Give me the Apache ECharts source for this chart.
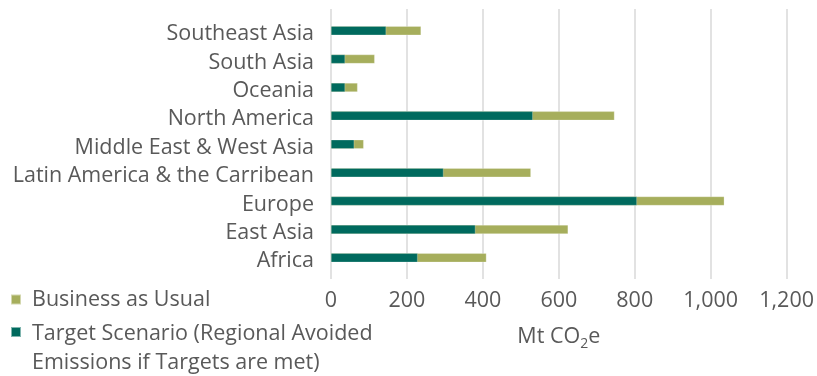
<!DOCTYPE html>
<html>
<head>
<meta charset="utf-8">
<script src="https://cdn.jsdelivr.net/npm/echarts@6/dist/echarts.min.js"></script>
<style>
  html, body { margin: 0; padding: 0; background: #ffffff; }
  #chart { width: 817px; height: 376px; }
</style>
</head>
<body>
<div id="chart"></div>
<script>
// Regions, listed bottom to top as the category axis runs
const regions = [
  'Africa',
  'East Asia',
  'Europe',
  'Latin America & the Carribean',
  'Middle East & West Asia',
  'North America',
  'Oceania',
  'South Asia',
  'Southeast Asia'
];
// Mt CO2e
const businessAsUsual = [409, 624, 1035, 526, 86, 746, 70, 115, 237];
const targetScenario  = [228, 380, 805, 296, 61, 531, 37, 37, 145];
const xTicks = { min: 0, max: 1200, interval: 200 };

const BAU_NAME = 'Business as Usual';
const TARGET_NAME = 'Target Scenario (Regional Avoided Emissions if Targets are met)';

const FONT = '"Open Sans", "Noto Sans", sans-serif';
const FONT_SIZE = 21.5;
const TEXT_GRAY = '#595959';
const BAU_COLOR = '#a6ae5c';
const TARGET_COLOR = '#006a5e';

const baseText = { color: TEXT_GRAY, fontFamily: FONT, fontSize: FONT_SIZE, fontWeight: 'normal' };

const chart = echarts.init(document.getElementById('chart'), null, { renderer: 'canvas' });

const legendCommon = {
  orient: 'vertical',
  left: 10,
  padding: 0,
  itemWidth: 10,
  itemHeight: 10,
  icon: 'rect'
};

chart.setOption({
  backgroundColor: '#ffffff',
  animation: false,
  textStyle: { fontFamily: FONT },
  grid: [
    // value axis + gridlines
    { left: 331, right: 30, top: 9, height: 270 },
    // bars + region labels
    { left: 331, right: 30, top: 16.5, height: 255.5 }
  ],
  xAxis: [
    {
      gridIndex: 0,
      type: 'value',
      min: xTicks.min, max: xTicks.max, interval: xTicks.interval,
      axisLine: { show: false },
      axisTick: { show: false },
      splitLine: { show: true, lineStyle: { color: '#d9d9d9', width: 1.5 } },
      axisLabel: Object.assign({ margin: 11, formatter: v => v.toLocaleString('en-US') }, baseText),
      name: 'Mt CO{sub|2}e',
      nameLocation: 'middle',
      nameGap: 43,
      nameTextStyle: Object.assign({
        rich: {
          sub: { fontSize: 14, fontFamily: FONT, color: TEXT_GRAY, padding: [15, 0, 0, 0] }
        }
      }, baseText)
    },
    {
      gridIndex: 1,
      type: 'value',
      min: xTicks.min, max: xTicks.max, interval: xTicks.interval,
      show: false
    }
  ],
  yAxis: [
    { gridIndex: 0, type: 'value', min: 0, max: 1, show: false },
    {
      gridIndex: 1,
      type: 'category',
      data: regions,
      axisLine: { show: false },
      axisTick: { show: false },
      axisLabel: Object.assign({
        margin: 17,
        interval: 0,
        // region names sit a little below the bar centre line
        formatter: v => '{r|' + v + '}',
        rich: { r: Object.assign({ padding: [7, 0, 0, 0] }, baseText) }
      }, baseText)
    }
  ],
  legend: [
    Object.assign({}, legendCommon, {
      top: 285,
      data: [BAU_NAME],
      textStyle: Object.assign({ lineHeight: 29, padding: [0, 0, 0, 6] }, baseText)
    }),
    Object.assign({}, legendCommon, {
      // the name wraps onto two lines; the square stays beside the first one
      top: 323,
      data: [TARGET_NAME],
      formatter: name => '{t|' + name.replace('Avoided ', 'Avoided}\n{t|') + '}',
      textStyle: Object.assign({
        padding: [33, 0, 0, 6],
        rich: { t: Object.assign({ lineHeight: 29 }, baseText) }
      }, baseText)
    })
  ],
  series: [
    {
      name: BAU_NAME,
      type: 'bar',
      xAxisIndex: 1, yAxisIndex: 1,
      data: businessAsUsual,
      barWidth: 9,
      barGap: '-100%',
      itemStyle: { color: BAU_COLOR, borderColor: 'rgba(255,255,255,0.5)', borderWidth: 0.5 }
    },
    {
      name: TARGET_NAME,
      type: 'bar',
      xAxisIndex: 1, yAxisIndex: 1,
      data: targetScenario,
      barWidth: 9,
      barGap: '-100%',
      itemStyle: { color: TARGET_COLOR, borderColor: 'rgba(255,255,255,0.5)', borderWidth: 0.5 }
    }
  ]
});
</script>
</body>
</html>
